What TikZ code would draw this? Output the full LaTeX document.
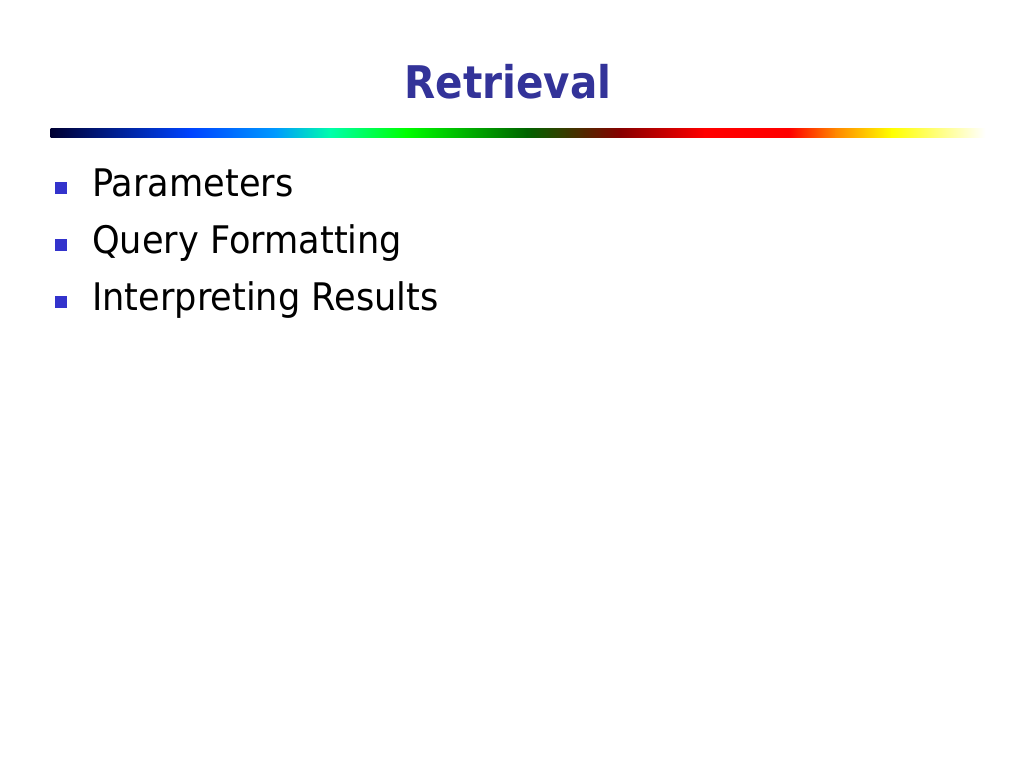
\documentclass[tikz,border=0pt]{standalone}
\usepackage{fontspec}
\setmainfont{DejaVu Sans}[FakeStretch=0.925]
\newfontfamily\titlefont{DejaVu Sans}[FakeStretch=0.9]
\usetikzlibrary{positioning}
\definecolor{titleblue}{RGB}{51,51,153}
\definecolor{bulletblue}{RGB}{51,51,204}
\definecolor{barA}{RGB}{0,0,51}
\definecolor{barB}{RGB}{0,68,255}
\definecolor{barC}{RGB}{0,153,255}
\definecolor{barD}{RGB}{0,255,170}
\definecolor{barE}{RGB}{0,255,0}
\definecolor{barF}{RGB}{0,100,0}
\definecolor{barG}{RGB}{136,0,0}
\definecolor{barH}{RGB}{255,0,0}
\definecolor{barI}{RGB}{255,136,0}
\definecolor{barJ}{RGB}{255,255,0}
\definecolor{barK}{RGB}{255,255,255}
\tikzset{
  slidetitle/.style={anchor=base,text=titleblue,font=\titlefont\fontsize{45}{50}\selectfont\bfseries},
  item/.style={anchor=base west,inner sep=0pt,font=\fontsize{38}{44}\selectfont},
  bullet/.style={fill=bulletblue,minimum size=12pt,inner sep=0pt,anchor=south west}
}

\begin{document}
\begin{tikzpicture}[x=1pt,y=-1pt]
  \useasboundingbox[fill=white] (0,0) rectangle (1024,768);
  \node[slidetitle] (title) at (508,98) {Retrieval};
  % rainbow rule under the title
  \foreach \a/\b/\ca/\cb in {51/191/barA/barB, 191/275/barB/barC, 275/331/barC/barD,
      331/406/barD/barE, 406/527/barE/barF, 527/621/barF/barG, 621/705/barG/barH,
      705/789/barH/barH, 789/836/barH/barI, 836/892/barI/barJ, 892/985/barJ/barK} {
    \shade[left color=\ca,right color=\cb] (\a-0.3,128) rectangle (\b+0.3,137);
  }
  \node[item] (params) at (92,196) {Parameters};
  \node[item] (query) at (92,253) {Query Formatting};
  \node[item] (interp) at (92,310) {Interpreting Results};
  \node[bullet] (b1) at (55,194) {};
  \node[bullet] (b2) at (55,251) {};
  \node[bullet] (b3) at (55,308) {};
\end{tikzpicture}
\end{document}
